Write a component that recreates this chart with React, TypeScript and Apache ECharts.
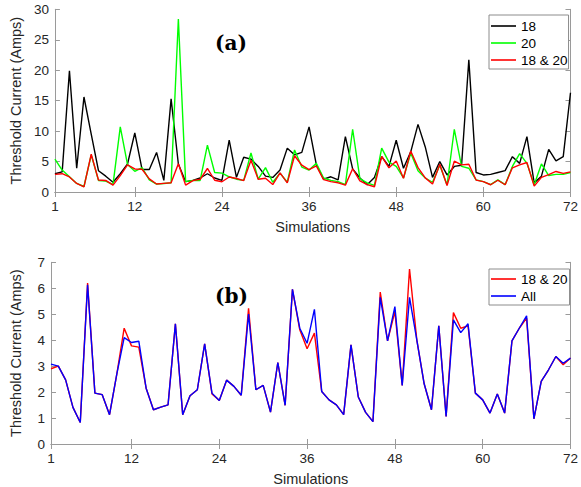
import React, { useEffect, useRef } from "react";
import * as echarts from "echarts";

const simulations: number[] = Array.from({ length: 72 }, (_, i) => i + 1);
const xTicks = [1, 12, 24, 36, 48, 60, 72];

const s18 = [
  3.0, 3.3, 19.9, 3.9, 15.6, 9.5, 3.5, 2.6, 1.6, 3.0, 4.6, 9.7, 3.7, 3.7, 6.5, 1.9, 15.3, 4.6,
  1.7, 1.9, 2.3, 3.0, 2.3, 1.9, 8.5, 2.4, 5.7, 5.4, 4.2, 2.6, 2.4, 3.6, 7.2, 6.1, 6.5, 10.7,
  4.5, 2.1, 2.5, 2.0, 9.1, 3.8, 2.3, 1.2, 2.4, 5.8, 4.2, 8.5, 3.9, 6.6, 11.1, 7.4, 2.4, 5.0,
  2.8, 4.2, 4.4, 21.7, 3.2, 2.8, 2.9, 3.2, 3.5, 5.8, 4.7, 9.1, 1.5, 2.6, 7.0, 5.1, 5.8, 16.3,
];
const s20 = [
  5.4, 3.6, 2.5, 1.4, 0.9, 6.1, 1.9, 1.8, 1.2, 10.7, 4.5, 3.4, 4.0, 2.0, 1.3, 1.4, 1.5, 28.4,
  1.7, 1.9, 1.9, 7.7, 3.2, 3.1, 2.5, 2.1, 1.9, 6.4, 2.1, 4.0, 1.6, 3.1, 1.6, 6.9, 4.1, 3.6,
  4.7, 2.3, 1.9, 1.7, 1.2, 10.3, 2.2, 1.5, 1.1, 7.2, 4.9, 4.2, 2.3, 6.4, 3.5, 2.3, 1.6, 4.4,
  1.15, 10.3, 4.2, 3.9, 2.0, 1.7, 1.2, 2.0, 1.2, 4.2, 6.3, 4.7, 1.2, 4.6, 2.7, 2.9, 2.9, 3.2,
];
const s18and20 = [
  2.9, 3.0, 2.47, 1.41, 0.83, 6.2, 1.96, 1.9, 1.13, 2.7, 4.46, 3.78, 3.73, 2.15, 1.32, 1.42, 1.51, 4.63,
  1.13, 1.86, 2.09, 3.86, 1.93, 1.68, 2.46, 2.22, 1.88, 5.23, 2.09, 2.26, 1.23, 3.14, 1.49, 5.96, 4.4, 3.67,
  4.27, 2.02, 1.7, 1.51, 1.13, 3.82, 1.81, 1.22, 0.86, 5.85, 3.97, 5.1, 2.26, 6.74, 4.0, 2.32, 1.32, 4.55,
  1.06, 5.06, 4.46, 4.55, 1.96, 1.7, 1.19, 1.93, 1.19, 3.97, 4.46, 4.85, 0.97, 2.41, 2.86, 3.37, 3.05, 3.31,
];
const sAll = [
  3.08, 3.0, 2.47, 1.41, 0.83, 6.13, 1.96, 1.9, 1.13, 2.7, 4.1, 3.91, 3.96, 2.15, 1.32, 1.42, 1.51, 4.63,
  1.13, 1.86, 2.09, 3.86, 1.96, 1.68, 2.46, 2.22, 1.88, 5.01, 2.09, 2.26, 1.23, 3.14, 1.49, 5.96, 4.46, 3.88,
  5.19, 2.02, 1.7, 1.51, 1.13, 3.82, 1.81, 1.22, 0.86, 5.65, 3.97, 5.29, 2.26, 5.65, 4.0, 2.32, 1.32, 4.55,
  1.06, 4.78, 4.29, 4.63, 1.96, 1.7, 1.19, 1.93, 1.19, 3.97, 4.46, 4.94, 0.97, 2.41, 2.86, 3.37, 3.11, 3.31,
];

const FONT = "'Liberation Sans', Arial, Helvetica, sans-serif";
const AXIS_COLOR = "#9a9a9a";
const TEXT_COLOR = "#262626";

const pairs = (arr: number[]) => arr.map((v, i) => [simulations[i], v]);

function xAxisPair(grid: number) {
  const base = {
    type: "value" as const,
    gridIndex: grid,
    min: 1,
    max: 72,
    splitLine: { show: false },
    axisLine: { show: true, lineStyle: { color: AXIS_COLOR, width: 1 } },
    axisTick: { show: true, inside: true, length: 5, customValues: xTicks, lineStyle: { color: AXIS_COLOR } },
  };
  return [
    {
      ...base,
      position: "bottom",
      name: "Simulations",
      nameLocation: "middle",
      nameGap: 27,
      nameTextStyle: { fontFamily: FONT, fontSize: 14.5, color: TEXT_COLOR },
      axisLabel: { show: true, customValues: xTicks, margin: 7, fontFamily: FONT, fontSize: 13.5, color: TEXT_COLOR },
    },
    { ...base, position: "top", axisLabel: { show: false } },
  ];
}

function yAxisPair(grid: number, max: number, interval: number) {
  const base = {
    type: "value" as const,
    gridIndex: grid,
    min: 0,
    max,
    interval,
    splitLine: { show: false },
    axisLine: { show: true, lineStyle: { color: AXIS_COLOR, width: 1 } },
    axisTick: { show: true, inside: true, length: 5, lineStyle: { color: AXIS_COLOR } },
  };
  return [
    {
      ...base,
      position: "left",
      name: "Threshold Current (Amps)",
      nameLocation: "middle",
      nameGap: 28,
      nameTextStyle: { fontFamily: FONT, fontSize: 14.5, color: TEXT_COLOR },
      axisLabel: { show: true, margin: 6, fontFamily: FONT, fontSize: 13.5, color: TEXT_COLOR },
    },
    { ...base, position: "right", axisLabel: { show: false } },
  ];
}

function lineSeries(name: string, data: number[], color: string, grid: number) {
  return {
    type: "line" as const,
    name,
    data: pairs(data),
    xAxisIndex: grid * 2,
    yAxisIndex: grid * 2,
    symbol: "none",
    showSymbol: false,
    lineStyle: { color, width: 1.4 },
    itemStyle: { color },
    emphasis: { disabled: true },
  };
}

export default function App() {
  const ref = useRef<HTMLDivElement>(null);
  useEffect(() => {
    if (!ref.current) return;
    const chart = echarts.init(ref.current, null, { renderer: "svg" });
    const legendCommon = {
      orient: "vertical" as const,
      backgroundColor: "#fff",
      borderColor: "#8c8c8c",
      borderWidth: 1,
      icon: "rect",
      itemWidth: 25,
      itemHeight: 1.6,
      itemGap: 3,
      textStyle: { fontFamily: FONT, fontSize: 13.5, color: "#000", lineHeight: 14 },
      selectedMode: false,
    };
    chart.setOption({
      animation: false,
      backgroundColor: "#fff",
      grid: [
        { left: 50.7, top: 9.3, width: 521.3, height: 182.7 },
        { left: 50.7, top: 262.3, width: 521.3, height: 182 },
      ],
      xAxis: [...xAxisPair(0), ...xAxisPair(1)],
      yAxis: [...yAxisPair(0, 30, 5), ...yAxisPair(1, 7, 1)],
      legend: [
        { ...legendCommon, data: ["18", "20", "18 & 20"], left: 489, top: 15, padding: [4, 1, 2, 2] },
        { ...legendCommon, data: ["18 & 20", "All"], left: 489, top: 269, padding: [3, 2, 2, 2] },
      ],
      graphic: [
        {
          type: "text",
          x: 231,
          y: 43,
          style: {
            text: "(a)",
            font: "bold 20px 'DejaVu Serif', serif",
            fill: "#000",
            align: "center",
            verticalAlign: "middle",
          },
        },
        {
          type: "text",
          x: 231.5,
          y: 296,
          style: {
            text: "(b)",
            font: "bold 20px 'DejaVu Serif', serif",
            fill: "#000",
            align: "center",
            verticalAlign: "middle",
          },
        },
      ],
      series: [
        lineSeries("18", s18, "#000000", 0),
        lineSeries("20", s20, "#00ff00", 0),
        lineSeries("18 & 20", s18and20, "#ff0000", 0),
        lineSeries("18 & 20", s18and20, "#ff0000", 1),
        lineSeries("All", sAll, "#0000ff", 1),
      ],
    });
    return () => chart.dispose();
  }, []);
  return (
    <div
      ref={ref}
      style={{ position: "absolute", left: 0, top: 0, width: 581, height: 487, background: "#fff" }}
    />
  );
}
